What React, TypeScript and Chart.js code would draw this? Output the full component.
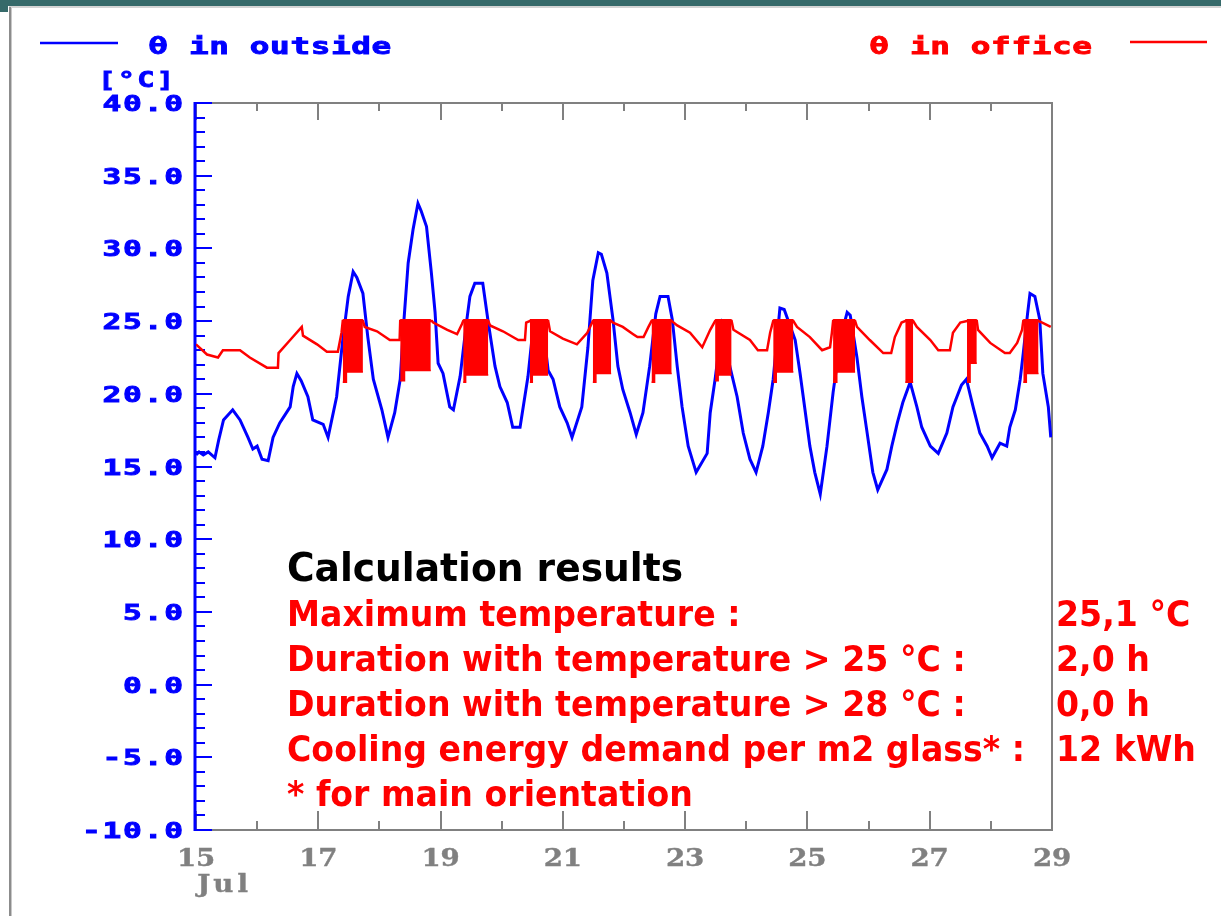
import React, { useEffect, useRef } from 'react';
import { Chart, registerables } from 'chart.js';

Chart.register(...registerables);

// ---------- data ----------
const outsideDays = [15.00,15.05,15.12,15.20,15.31,15.37,15.45,15.60,15.72,15.85,15.93,16.00,16.08,16.18,16.26,16.37,16.54,16.59,16.65,16.72,16.83,16.91,17.08,17.16,17.30,17.40,17.49,17.57,17.63,17.73,17.81,17.90,18.04,18.14,18.25,18.34,18.40,18.47,18.55,18.63,18.68,18.77,18.85,18.91,18.96,19.04,19.15,19.21,19.32,19.43,19.48,19.56,19.69,19.78,19.89,19.97,20.09,20.18,20.30,20.43,20.51,20.60,20.68,20.76,20.84,20.95,21.07,21.15,21.31,21.41,21.49,21.58,21.63,21.72,21.82,21.90,21.98,22.10,22.20,22.31,22.42,22.52,22.59,22.72,22.79,22.87,22.95,23.05,23.18,23.36,23.41,23.49,23.60,23.73,23.85,23.95,24.06,24.16,24.27,24.36,24.44,24.55,24.62,24.80,24.88,24.96,25.04,25.12,25.21,25.32,25.42,25.55,25.65,25.70,25.81,25.89,25.97,26.07,26.15,26.30,26.38,26.47,26.56,26.68,26.79,26.87,27.01,27.14,27.28,27.38,27.52,27.60,27.71,27.82,27.94,28.02,28.15,28.26,28.31,28.40,28.48,28.53,28.60,28.64,28.72,28.80,28.85,28.94,28.98];
const outsideTemps = [15.8,16.0,15.8,16.0,15.6,16.8,18.2,18.9,18.2,17.0,16.2,16.4,15.5,15.4,17.0,18.0,19.1,20.5,21.4,20.9,19.8,18.2,17.9,17.0,19.8,23.7,26.7,28.4,28.0,26.9,23.9,21.0,18.9,17.0,18.7,21.0,25.0,29.0,31.3,33.1,32.6,31.5,28.3,25.6,22.1,21.4,19.1,18.9,21.2,25.1,26.7,27.6,27.6,24.9,21.9,20.5,19.4,17.7,17.7,21.2,24.4,24.6,24.4,21.6,21.0,19.1,18.0,17.0,19.1,23.2,27.8,29.7,29.6,28.3,25.1,21.9,20.3,18.7,17.2,18.7,21.9,25.5,26.7,26.7,25.1,21.9,19.1,16.4,14.6,15.9,18.7,21.0,24.6,21.9,19.8,17.3,15.5,14.6,16.4,18.7,21.0,25.9,25.8,23.7,21.4,18.9,16.4,14.6,13.1,16.4,20.1,24.0,25.6,25.4,22.5,19.8,17.5,14.6,13.4,14.8,16.4,18.0,19.4,20.8,19.1,17.7,16.4,15.9,17.3,19.1,20.6,21.0,19.1,17.3,16.4,15.6,16.6,16.4,17.7,18.9,21.0,22.8,25.5,26.9,26.7,25.1,21.4,19.1,17.0];

const officeDays = [15.00,15.18,15.36,15.44,15.72,15.88,16.16,16.34,16.35,16.54,16.73,16.75,16.98,17.14,17.32,17.38,17.40,17.73,17.76,17.96,18.17,18.33,18.34,18.86,18.88,19.11,19.27,19.35,19.37,19.78,19.81,20.02,20.27,20.38,20.40,20.46,20.76,20.79,21.00,21.23,21.40,21.49,21.79,21.82,21.98,22.15,22.22,22.32,22.40,22.45,22.78,22.87,23.08,23.28,23.41,23.49,23.76,23.79,24.06,24.19,24.34,24.39,24.44,24.77,24.83,25.04,25.24,25.37,25.40,25.42,25.78,25.81,26.02,26.24,26.37,26.43,26.54,26.60,26.73,26.79,27.01,27.14,27.33,27.38,27.50,27.61,27.77,27.79,27.99,28.23,28.31,28.43,28.51,28.53,28.78,28.84,28.98];
const officeTemps = [23.4,22.7,22.5,23.0,23.0,22.5,21.8,21.8,22.8,23.7,24.6,24.0,23.4,22.9,22.9,24.2,25.0,25.0,24.6,24.3,23.7,23.7,25.0,25.0,24.9,24.4,24.1,24.8,25.0,25.0,24.7,24.3,23.7,23.7,24.9,25.0,25.0,24.3,23.8,23.4,24.2,25.0,25.0,24.9,24.6,24.1,23.9,23.9,24.6,25.0,25.0,24.7,24.2,23.2,24.4,25.0,25.0,24.4,23.7,23.0,23.0,24.2,25.0,25.0,24.6,23.9,23.0,23.2,24.2,25.0,25.0,24.6,23.7,22.8,22.8,23.9,24.9,25.0,25.0,24.6,23.7,23.0,23.0,24.2,24.9,25.0,25.0,24.4,23.5,22.8,22.8,23.5,24.4,25.0,25.0,24.9,24.6];

// cooling (on/off) periods of the office temperature: dense oscillation bands
const coolStart = [17.40,18.34,19.37,20.46,21.49,22.45,23.49,24.44,25.42,26.60,27.61,28.53];
const coolEnd = [17.73,18.84,19.78,20.76,21.79,22.78,23.76,24.77,25.78,26.73,27.77,28.78];
const coolHighValue = 25.1;
const coolJagEnd = [17.46,18.41,19.41,20.50,21.54,22.50,23.54,24.49,25.48,26.73,27.66,28.58];
const coolJagLow = [20.8,20.9,20.8,20.8,20.8,20.8,20.9,20.8,20.8,20.8,20.8,20.8];
const coolLow = [21.5,21.6,21.3,21.3,21.4,21.4,21.3,21.5,21.5,20.8,22.1,21.4];

const xMin = 15;
const xMax = 29;
const yMin = -10;
const yMax = 40;
const yTickValues = [40, 35, 30, 25, 20, 15, 10, 5, 0, -5, -10];
const yTickLabels = ['40.0', '35.0', '30.0', '25.0', '20.0', '15.0', '10.0', '5.0', '0.0', '-5.0', '-10.0'];
const xTickValues = [15, 17, 19, 21, 23, 25, 27, 29];
const xTickLabels = ['15', '17', '19', '21', '23', '25', '27', '29'];
const xMonthLabel = 'Jul';
const yUnitLabel = '[°C]';
const outsideLabel = 'θ in outside';
const officeLabel = 'θ in office';

const resultsTitle = 'Calculation results';
const resultLabels = [
  'Maximum temperature :',
  'Duration with temperature > 25 °C :',
  'Duration with temperature > 28 °C :',
  'Cooling energy demand per m2 glass* :',
  '* for main orientation',
];
const resultValues = ['25,1 °C', '2,0 h', '0,0 h', '12 kWh', ''];

// ---------- styles ----------
const BLUE = '#0000ff';
const RED = '#ff0000';
const GRAY = '#808080';
const MONO = '"DejaVu Sans Mono", monospace';

function drawMono(
  ctx: CanvasRenderingContext2D,
  text: string,
  x: number,
  baseline: number,
  advance: number,
  sx: number,
  font: string,
  color: string,
  align: 'left' | 'right' | 'center',
  weight = 0.9
) {
  const chars = Array.from(text);
  const n = chars.length;
  const start = align === 'left' ? x : align === 'right' ? x - n * advance : x - (n * advance) / 2;
  ctx.save();
  ctx.font = font;
  ctx.fillStyle = color;
  ctx.strokeStyle = color;
  ctx.lineWidth = weight;
  ctx.lineJoin = 'miter';
  ctx.textAlign = 'center';
  ctx.textBaseline = 'alphabetic';
  chars.forEach((ch, i) => {
    ctx.save();
    ctx.translate(start + (i + 0.5) * advance, baseline);
    ctx.scale(sx, 1);
    ctx.fillText(ch, 0, 0);
    if (weight > 0) ctx.strokeText(ch, 0, 0);
    ctx.restore();
  });
  ctx.restore();
}

const decorPlugin = {
  id: 'decor',
  beforeDraw(chart: any) {
    const ctx: CanvasRenderingContext2D = chart.ctx;
    const W = chart.width;
    const H = chart.height;
    ctx.save();
    ctx.fillStyle = '#ffffff';
    ctx.fillRect(0, 0, W, H);
    ctx.fillStyle = '#366a6a';
    ctx.fillRect(0, 0, W, 6);
    ctx.fillRect(0, 6, 8, 6);
    ctx.fillStyle = '#d4d4d4';
    ctx.fillRect(9, 6, W - 9, 2);
    ctx.fillStyle = '#8c8c8c';
    ctx.fillRect(9, 7, 2, H - 7);
    ctx.fillStyle = '#c8c8c8';
    ctx.fillRect(11, 8, 1, H - 8);
    ctx.restore();
  },
  beforeDatasetsDraw(chart: any) {
    const ctx: CanvasRenderingContext2D = chart.ctx;
    const { left, right, top, bottom } = chart.chartArea;
    const xs = chart.scales.x;
    const ys = chart.scales.y;
    ctx.save();
    ctx.strokeStyle = GRAY;
    ctx.lineWidth = 2;
    ctx.beginPath();
    ctx.moveTo(left, top);
    ctx.lineTo(right, top);
    ctx.lineTo(right, bottom);
    ctx.lineTo(left, bottom);
    ctx.stroke();
    for (let d = Math.ceil(xs.min); d <= xs.max; d++) {
      const px = Math.round(xs.getPixelForValue(d));
      const long = d % 2 === 1;
      const lenB = long ? 19 : 9;
      const lenT = long ? 17 : 8;
      ctx.beginPath();
      ctx.moveTo(px, bottom);
      ctx.lineTo(px, bottom - lenB);
      ctx.moveTo(px, top);
      ctx.lineTo(px, top + lenT);
      ctx.stroke();
    }
    ctx.strokeStyle = BLUE;
    ctx.lineWidth = 3;
    ctx.beginPath();
    ctx.moveTo(left - 1, top - 1);
    ctx.lineTo(left - 1, bottom + 1);
    ctx.stroke();
    ctx.lineWidth = 2;
    for (let v = Math.ceil(ys.min); v <= ys.max; v++) {
      const py = Math.round(ys.getPixelForValue(v));
      const len = v % 5 === 0 ? 16 : 9;
      ctx.beginPath();
      ctx.moveTo(left, py);
      ctx.lineTo(left + len, py);
      ctx.stroke();
    }
    ctx.restore();
  },
  afterDraw(chart: any) {
    const ctx: CanvasRenderingContext2D = chart.ctx;
    const { left } = chart.chartArea;
    const xs = chart.scales.x;
    const ys = chart.scales.y;
    const monoFont = `bold 22px ${MONO}`;
    yTickValues.forEach((v, i) => {
      const py = ys.getPixelForValue(v);
      drawMono(ctx, yTickLabels[i], left - 12, py + 8, 20.6, 1.42, monoFont, BLUE, 'right');
    });
    drawMono(ctx, yUnitLabel, 97, 87, 19.5, 1.3, monoFont, BLUE, 'left');
    const serif = 'bold 24px "DejaVu Serif", serif';
    xTickValues.forEach((v, i) => {
      const px = xs.getPixelForValue(v);
      drawMono(ctx, xTickLabels[i], px, 866, 19, 1.15, serif, GRAY, 'center', 0.4);
    });
    drawMono(ctx, xMonthLabel, xs.getPixelForValue(xMin) - 2, 892, 19.5, 1.15, serif, GRAY, 'left', 0.4);

    const legFont = `bold 23px ${MONO}`;
    ctx.save();
    ctx.lineWidth = 2.5;
    ctx.strokeStyle = BLUE;
    ctx.beginPath();
    ctx.moveTo(40, 43);
    ctx.lineTo(118, 43);
    ctx.stroke();
    ctx.strokeStyle = RED;
    ctx.beginPath();
    ctx.moveTo(1130, 42);
    ctx.lineTo(1207, 42);
    ctx.stroke();
    ctx.restore();
    drawMono(ctx, outsideLabel, 148, 54, 20.3, 1.42, legFont, BLUE, 'left');
    drawMono(ctx, officeLabel, 869, 54, 20.3, 1.42, legFont, RED, 'left');

    ctx.save();
    ctx.textAlign = 'left';
    ctx.textBaseline = 'alphabetic';
    ctx.font = 'bold 39px "DejaVu Sans", sans-serif';
    const tW = ctx.measureText(resultsTitle).width;
    const tSx = 396 / tW;
    ctx.save();
    ctx.translate(287, 581);
    ctx.scale(tSx, 1);
    ctx.fillStyle = '#000000';
    ctx.fillText(resultsTitle, 0, 0);
    ctx.restore();

    ctx.font = 'bold 35px "DejaVu Sans", sans-serif';
    const refW = ctx.measureText(resultLabels[3]).width;
    const bSx = 738 / refW;
    ctx.fillStyle = RED;
    resultLabels.forEach((lab, i) => {
      const base = 626 + i * 45;
      ctx.save();
      ctx.translate(287, base);
      ctx.scale(bSx, 1);
      ctx.fillText(lab, 0, 0);
      ctx.restore();
      if (resultValues[i]) {
        ctx.save();
        ctx.translate(1056, base);
        ctx.scale(bSx, 1);
        ctx.fillText(resultValues[i], 0, 0);
        ctx.restore();
      }
    });
    ctx.restore();
  },
};

export default function App() {
  const canvasRef = useRef<HTMLCanvasElement | null>(null);

  useEffect(() => {
    if (!canvasRef.current) return;

    const outsidePts = outsideDays.map((d, i) => ({ x: d, y: outsideTemps[i] }));
    const officePts = officeDays.map((d, i) => ({ x: d, y: officeTemps[i] }));
    const topPts: { x: number; y: number | null }[] = [];
    const botPts: { x: number; y: number | null }[] = [];
    coolStart.forEach((s, i) => {
      const e = coolEnd[i];
      topPts.push({ x: s, y: coolHighValue }, { x: e, y: coolHighValue }, { x: e, y: null });
      botPts.push(
        { x: s, y: coolJagLow[i] },
        { x: coolJagEnd[i], y: coolJagLow[i] },
        { x: coolJagEnd[i], y: coolLow[i] },
        { x: e, y: coolLow[i] },
        { x: e, y: null }
      );
    });

    const chart = new Chart(canvasRef.current, {
      type: 'line',
      data: {
        datasets: [
          {
            label: 'cooling band bottom',
            data: botPts as any,
            borderColor: RED,
            backgroundColor: RED,
            borderWidth: 1.5,
            pointRadius: 0,
            fill: { value: coolHighValue } as any,
            spanGaps: false,
          },
          {
            label: 'cooling band top',
            data: topPts as any,
            borderColor: RED,
            borderWidth: 1.5,
            pointRadius: 0,
            fill: false,
            spanGaps: false,
          },
          {
            label: officeLabel,
            data: officePts,
            borderColor: RED,
            borderWidth: 2.5,
            pointRadius: 0,
            fill: false,
          },
          {
            label: outsideLabel,
            data: outsidePts,
            borderColor: BLUE,
            borderWidth: 3,
            pointRadius: 0,
            fill: false,
          },
        ],
      },
      options: {
        animation: false,
        responsive: false,
        maintainAspectRatio: false,
        layout: { padding: { left: 196, top: 103, right: 169, bottom: 86 } },
        elements: { line: { tension: 0 } },
        scales: {
          x: { type: 'linear', min: xMin, max: xMax, display: false },
          y: { type: 'linear', min: yMin, max: yMax, display: false },
        },
        plugins: {
          legend: { display: false },
          tooltip: { enabled: false },
        },
      },
      plugins: [decorPlugin],
    });

    return () => chart.destroy();
  }, []);

  return (
    <div style={{ position: 'fixed', left: 0, top: 0, width: 1221, height: 916, background: '#fff' }}>
      <canvas ref={canvasRef} width={1221} height={916} style={{ display: 'block', width: 1221, height: 916 }} />
    </div>
  );
}
